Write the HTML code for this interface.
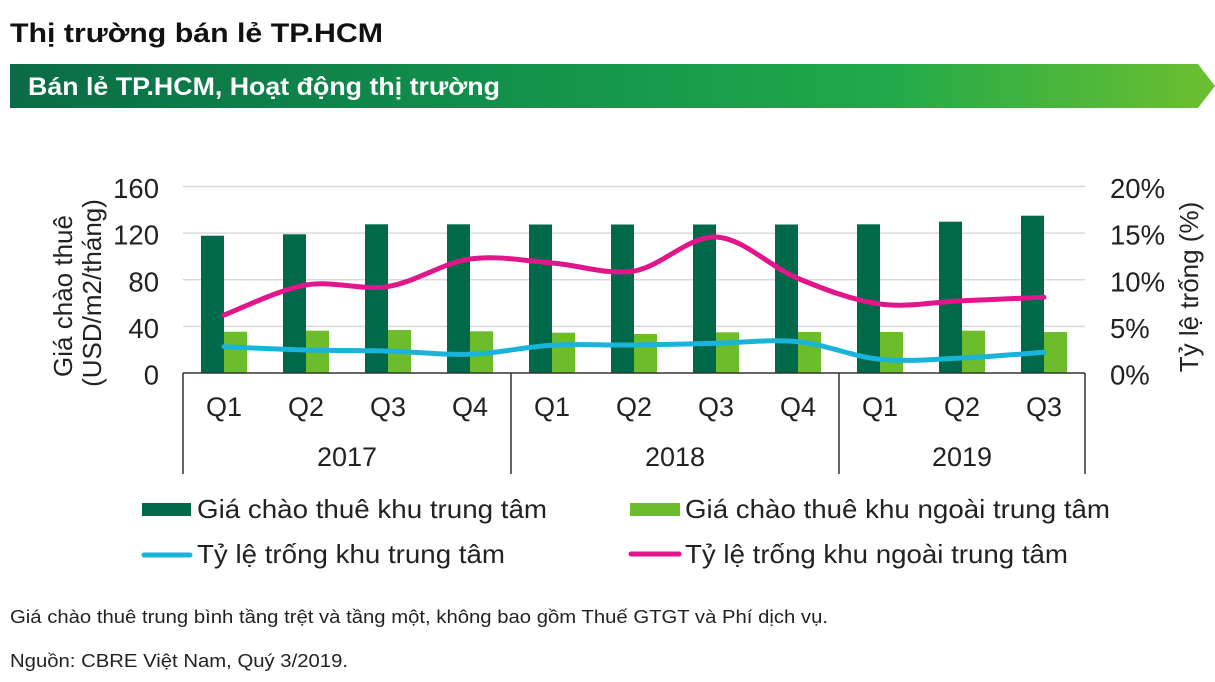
<!DOCTYPE html>
<html>
<head>
<meta charset="utf-8">
<style>
html,body{margin:0;padding:0;background:#fff;}
svg{display:block;}
text{font-family:"Liberation Sans",Arial,sans-serif;}
</style>
</head>
<body>
<svg width="1215" height="682" viewBox="0 0 1215 682" xmlns="http://www.w3.org/2000/svg">
<defs>
<linearGradient id="bg" x1="0" y1="0" x2="1" y2="0">
<stop offset="0" stop-color="#0a6c46"/>
<stop offset="0.4" stop-color="#12904b"/>
<stop offset="0.72" stop-color="#1fa94a"/>
<stop offset="1" stop-color="#6cbf30"/>
</linearGradient>
</defs>
<rect width="1215" height="682" fill="#fff"/>

<!-- Title -->
<text x="10" y="42" font-size="27" font-weight="bold" fill="#111" textLength="373" lengthAdjust="spacingAndGlyphs">Thị trường bán lẻ TP.HCM</text>

<!-- Banner -->
<polygon points="10,64 1198,64 1215,86 1198,108 10,108" fill="url(#bg)"/>
<text x="28" y="95" font-size="25" font-weight="bold" fill="#fff" textLength="472" lengthAdjust="spacingAndGlyphs">Bán lẻ TP.HCM, Hoạt động thị trường</text>

<!-- Gridlines -->
<g stroke="#d9d9d9" stroke-width="1.5">
<line x1="183" y1="186.5" x2="1085" y2="186.5"/>
<line x1="183" y1="233.1" x2="1085" y2="233.1"/>
<line x1="183" y1="279.8" x2="1085" y2="279.8"/>
<line x1="183" y1="326.4" x2="1085" y2="326.4"/>
</g>

<!-- Dark bars -->
<g fill="#00694a">
<rect x="201" y="235.7" width="23" height="137.3"/>
<rect x="283" y="234.3" width="23" height="138.7"/>
<rect x="365" y="224.3" width="23" height="148.7"/>
<rect x="447" y="224.3" width="23" height="148.7"/>
<rect x="529" y="224.5" width="23" height="148.5"/>
<rect x="611" y="224.5" width="23" height="148.5"/>
<rect x="693" y="224.5" width="23" height="148.5"/>
<rect x="775" y="224.5" width="23" height="148.5"/>
<rect x="857" y="224.3" width="23" height="148.7"/>
<rect x="939" y="221.7" width="23" height="151.3"/>
<rect x="1021" y="215.7" width="23" height="157.3"/>
</g>
<!-- Light bars -->
<g fill="#6cbc2c">
<rect x="224" y="331.7" width="23" height="41.3"/>
<rect x="306" y="330.7" width="23" height="42.3"/>
<rect x="388" y="330" width="23" height="43"/>
<rect x="470" y="331.3" width="23" height="41.7"/>
<rect x="552" y="332.7" width="23" height="40.3"/>
<rect x="634" y="334" width="23" height="39"/>
<rect x="716" y="332.3" width="23" height="40.7"/>
<rect x="798" y="332" width="23" height="41"/>
<rect x="880" y="332" width="23" height="41"/>
<rect x="962" y="330.7" width="23" height="42.3"/>
<rect x="1044" y="332" width="23" height="41"/>
</g>

<!-- Lines -->
<path d="M224 315 C237.67 310,278.67 289.75,306 285 C333.33 280.25,360.67 290.83,388 286.5 C415.33 282.17,442.67 262.92,470 259 C497.33 255.08,524.67 261,552 263 C579.33 265,606.67 275.33,634 271 C661.33 266.67,688.67 235.75,716 237 C743.33 238.25,770.67 267.33,798 278.5 C825.33 289.67,852.67 300.3,880 304 C907.33 307.7,934.67 301.82,962 300.7 C989.33 299.58,1030.33 297.87,1044 297.3" fill="none" stroke="#e2168b" stroke-width="5" stroke-linecap="round" stroke-linejoin="round"/>
<path d="M224 346.7 C237.67 347.25,278.67 349.28,306 350 C333.33 350.72,360.67 350.28,388 351 C415.33 351.72,442.67 355.25,470 354.3 C497.33 353.35,524.67 346.85,552 345.3 C579.33 343.75,606.67 345.33,634 345 C661.33 344.67,688.67 343.85,716 343.3 C743.33 342.75,770.67 339.03,798 341.7 C825.33 344.37,852.67 356.58,880 359.3 C907.33 362.02,934.67 359.17,962 358 C989.33 356.83,1030.33 353.25,1044 352.3" fill="none" stroke="#1ab3da" stroke-width="5" stroke-linecap="round" stroke-linejoin="round"/>

<!-- Category axis -->
<g stroke="#333" stroke-width="1.5">
<line x1="183" y1="373" x2="1085" y2="373"/>
<line x1="183" y1="373" x2="183" y2="474"/>
<line x1="511" y1="373" x2="511" y2="474"/>
<line x1="839" y1="373" x2="839" y2="474"/>
<line x1="1085" y1="373" x2="1085" y2="474"/>
</g>

<g font-size="27" fill="#222" text-anchor="middle">
<text x="224" y="416">Q1</text>
<text x="306" y="416">Q2</text>
<text x="388" y="416">Q3</text>
<text x="470" y="416">Q4</text>
<text x="552" y="416">Q1</text>
<text x="634" y="416">Q2</text>
<text x="716" y="416">Q3</text>
<text x="798" y="416">Q4</text>
<text x="880" y="416">Q1</text>
<text x="962" y="416">Q2</text>
<text x="1044" y="416">Q3</text>
<text x="347" y="466">2017</text>
<text x="675" y="466">2018</text>
<text x="962" y="466">2019</text>
</g>

<!-- Left ticks -->
<g font-size="27.5" fill="#222" text-anchor="end">
<text x="159" y="198">160</text>
<text x="159" y="244.6">120</text>
<text x="159" y="291.3">80</text>
<text x="159" y="337.9">40</text>
<text x="159" y="384.5">0</text>
</g>
<!-- Right ticks -->
<g font-size="27.5" fill="#222" text-anchor="start">
<text x="1110" y="198">20%</text>
<text x="1110" y="244.6">15%</text>
<text x="1110" y="291.3">10%</text>
<text x="1110" y="337.9">5%</text>
<text x="1110" y="384.5">0%</text>
</g>

<!-- Axis titles -->
<g font-size="26" fill="#222" text-anchor="middle">
<text transform="translate(72,296) rotate(-90)">Giá chào thuê</text>
<text transform="translate(101,293) rotate(-90)">(USD/m2/tháng)</text>
<text transform="translate(1198,287) rotate(-90)">Tỷ lệ trống (%)</text>
</g>

<!-- Legend -->
<rect x="142" y="503" width="49" height="13" fill="#00694a"/>
<rect x="630" y="503" width="50" height="13" fill="#6cbc2c"/>
<line x1="144" y1="555" x2="190" y2="555" stroke="#1ab3da" stroke-width="5" stroke-linecap="round"/>
<line x1="631" y1="554" x2="679" y2="554" stroke="#e2168b" stroke-width="5" stroke-linecap="round"/>
<g font-size="26" fill="#222">
<text x="197" y="518" textLength="350" lengthAdjust="spacingAndGlyphs">Giá chào thuê khu trung tâm</text>
<text x="685" y="518" textLength="425" lengthAdjust="spacingAndGlyphs">Giá chào thuê khu ngoài trung tâm</text>
<text x="197" y="563" textLength="308" lengthAdjust="spacingAndGlyphs">Tỷ lệ trống khu trung tâm</text>
<text x="685" y="563" textLength="383" lengthAdjust="spacingAndGlyphs">Tỷ lệ trống khu ngoài trung tâm</text>
</g>

<!-- Footnotes -->
<g font-size="18" fill="#222">
<text x="10" y="623" textLength="818" lengthAdjust="spacingAndGlyphs">Giá chào thuê trung bình tầng trệt và tầng một, không bao gồm Thuế GTGT và Phí dịch vụ.</text>
<text x="10" y="667" textLength="338" lengthAdjust="spacingAndGlyphs">Nguồn: CBRE Việt Nam, Quý 3/2019.</text>
</g>
</svg>
</body>
</html>
